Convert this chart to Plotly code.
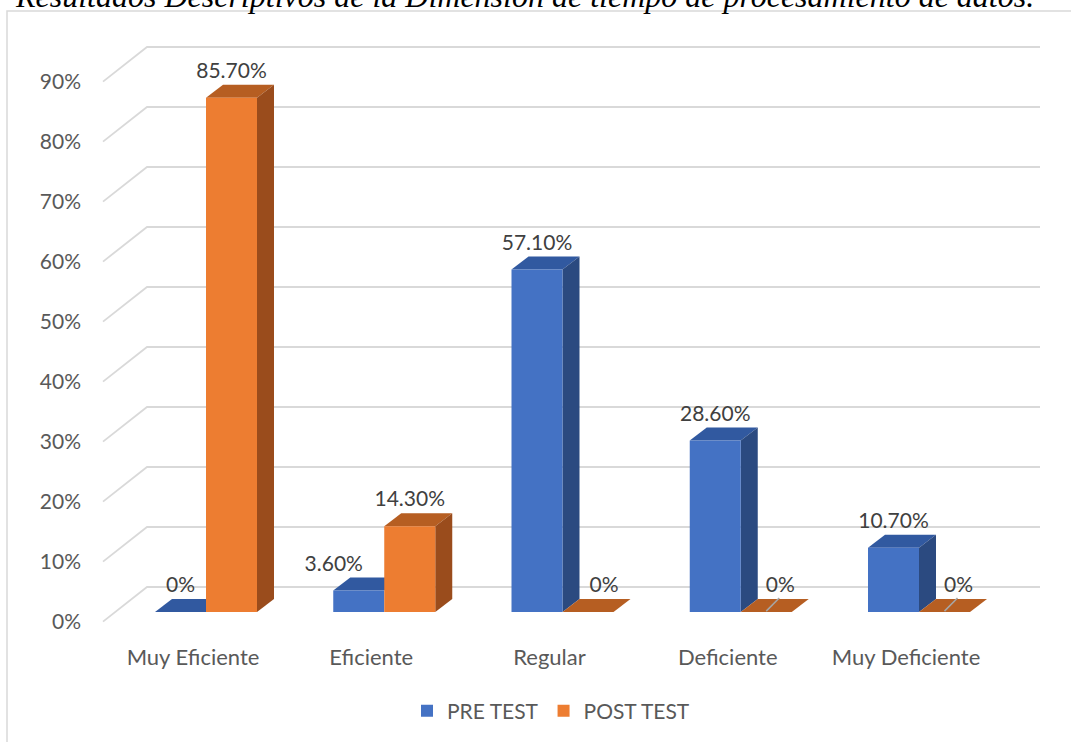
import plotly.graph_objects as go

# ---------------- data ----------------
categories = ["Muy Eficiente", "Eficiente", "Regular", "Deficiente", "Muy Deficiente"]
pre_test = [0.0, 3.6, 57.1, 28.6, 10.7]
post_test = [85.7, 14.3, 0.0, 0.0, 0.0]
series_names = ["PRE TEST", "POST TEST"]
y_ticks = [0, 10, 20, 30, 40, 50, 60, 70, 80, 90]
title_text = "Resultados Descriptivos de la Dimensión de tiempo de procesamiento de datos."

# ---------------- styling / geometry ----------------
W, H = 1071, 742
ML, MR, MT, MB = 90, 10, 20, 100
PW, PH = W - ML - MR, H - MT - MB
X0PX, XSTEP = 206.0, 178.25        # pixel of first group centre, pixel per category
Y0PX, PPU = 612.0, 6.0              # pixel of bar zero, pixel per percent
BARW = 51.0 / XSTEP                 # width of one bar (x units)
DX, DY = 17.0 / XSTEP, 13.0 / PPU   # 3-D depth offset
FRONT_OFF = -1.6                    # front edge of the wall relative to bar zero
BACK_OFF = 25.0 / PPU               # back wall relative to bar zero
WALL_FRONT_X = (103 - X0PX) / XSTEP
WALL_BACK_X = (147 - X0PX) / XSTEP
WALL_END_X = (1040 - X0PX) / XSTEP

FONT = "Lato"
AXIS_COL = "#595959"
LABEL_COL = "#404040"
GRID_COL = "#d9d9d9"
FRONT = ["#4472C4", "#ED7D31"]
TOP = ["#3159A0", "#B65E22"]
SIDE = ["#2B4A80", "#9A4C1C"]
LABEL_NUDGE_PX = {(0, 1): -25, (1, 2): 16, (1, 3): 14, (1, 4): 14}
LEADERS = {(1, 3), (1, 4)}

xr = [(ML - X0PX) / XSTEP, (W - MR - X0PX) / XSTEP]
yr = [(Y0PX - (H - MB)) / PPU, (Y0PX - MT) / PPU]


def px(p):
    return (p - ML) / PW


def py(q):
    return ((H - MB) - q) / PH


series = [pre_test, post_test]
xs = list(range(len(categories)))

fig = go.Figure()
shapes = []

# back wall gridlines (with the slanted side wall)
for v in y_ticks:
    shapes.append(dict(
        type="path", xref="x", yref="y", layer="below",
        path=f"M{WALL_FRONT_X},{v + FRONT_OFF} L{WALL_BACK_X},{v + BACK_OFF} L{WALL_END_X},{v + BACK_OFF}",
        line=dict(color=GRID_COL, width=1.8)))


def poly(points):
    return "M" + " L".join(f"{a},{b}" for a, b in points) + " Z"


# 3-D top and side faces
for j, vals in enumerate(series):
    for i, v in enumerate(vals):
        x0 = i - BARW + j * BARW
        x1 = x0 + BARW
        shapes.append(dict(type="path", xref="x", yref="y", layer="below",
                           path=poly([(x0, v), (x1, v), (x1 + DX, v + DY), (x0 + DX, v + DY)]),
                           fillcolor=TOP[j], line=dict(width=0)))
        lo = 0.0
        if j == 0:
            lo = min(series[1][i], v)
        if v > lo:
            shapes.append(dict(type="path", xref="x", yref="y", layer="below",
                               path=poly([(x1, lo), (x1 + DX, lo + DY), (x1 + DX, v + DY), (x1, v)]),
                               fillcolor=SIDE[j], line=dict(width=0)))

# front faces as bars
for j, vals in enumerate(series):
    fig.add_trace(go.Bar(
        x=xs, y=vals, name=series_names[j],
        marker=dict(color=FRONT[j], line=dict(width=0)),
        hoverinfo="skip"))

# data labels
for j, vals in enumerate(series):
    lx, ly, lt = [], [], []
    for i, v in enumerate(vals):
        xc = i - BARW / 2 + j * BARW + LABEL_NUDGE_PX.get((j, i), 0) / XSTEP
        lx.append(xc)
        ly.append(v + DY + 2.0)
        lt.append("0%" if v == 0 else f"{v:.2f}%")
        if (j, i) in LEADERS:
            bx = i - BARW / 2 + j * BARW
            shapes.append(dict(type="line", xref="x", yref="y", layer="above",
                               x0=bx, y0=v + 0.15, x1=bx + 13 / XSTEP, y1=v + 14 / PPU,
                               line=dict(color="#a6a6a6", width=1.5)))
    fig.add_trace(go.Scatter(
        x=lx, y=ly, text=lt, mode="text", showlegend=False, hoverinfo="skip",
        textfont=dict(family=FONT, size=21, color=LABEL_COL)))

# invisible trace carrying the percent axis (front of the wall)
fig.add_trace(go.Scatter(x=[xr[0]], y=[0], yaxis="y2", mode="markers",
                         marker=dict(opacity=0), showlegend=False, hoverinfo="skip"))

# chart frame
shapes.append(dict(type="rect", xref="paper", yref="paper", layer="below",
                   x0=px(7), x1=px(W + 20), y0=py(11), y1=py(H + 20),
                   line=dict(color=GRID_COL, width=1.5), fillcolor="rgba(0,0,0,0)"))

fig.update_layout(
    width=W, height=H,
    margin=dict(l=ML, r=MR, t=MT, b=MB),
    paper_bgcolor="white", plot_bgcolor="white",
    barmode="group", bargap=1 - 2 * BARW, bargroupgap=0,
    shapes=shapes,
    font=dict(family=FONT, size=21, color=AXIS_COL),
    xaxis=dict(range=xr, tickmode="array",
               tickvals=[i - 13 / XSTEP for i in xs], ticktext=categories,
               showgrid=False, zeroline=False, showline=False, ticks="",
               tickfont=dict(family=FONT, size=22, color=AXIS_COL)),
    yaxis=dict(range=yr, showgrid=False, zeroline=False, showticklabels=False,
               showline=False, ticks=""),
    yaxis2=dict(range=[yr[0] - FRONT_OFF, yr[1] - FRONT_OFF], overlaying="y", side="left",
                tickmode="array", tickvals=y_ticks, ticktext=[f"{t}%" for t in y_ticks],
                showgrid=False, zeroline=False, showline=False, ticks="",
                ticklabelstandoff=8,
                tickfont=dict(family=FONT, size=21, color=AXIS_COL)),
    legend=dict(orientation="h", x=px(551), xanchor="center", y=py(711), yanchor="middle",
                font=dict(family=FONT, size=21, color=AXIS_COL), itemwidth=30,
                bgcolor="rgba(0,0,0,0)"),
    annotations=[dict(text=f"<i>{title_text}</i>", xref="paper", yref="paper",
                      x=px(524), y=py(16), xanchor="center", yanchor="bottom",
                      showarrow=False,
                      font=dict(family="Liberation Serif", size=32, color="black"))],
)

fig.write_html("out.html", config={"displayModeBar": False},
               post_script="document.body.style.margin='0px';")
